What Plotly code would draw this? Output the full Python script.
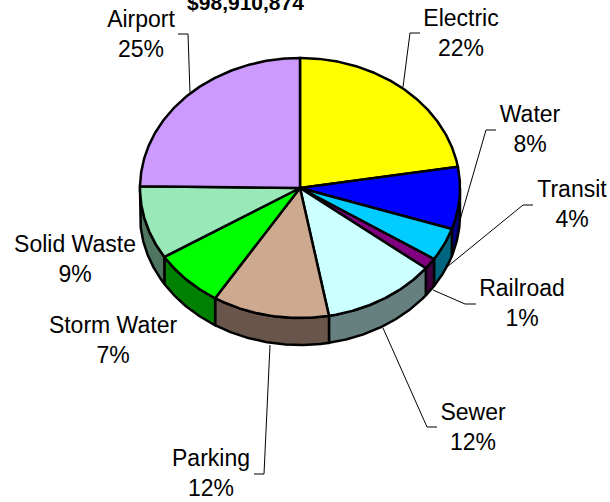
import math
import plotly.graph_objects as go

categories = ["Electric", "Water", "Transit", "Railroad", "Sewer", "Parking", "Storm Water", "Solid Waste", "Airport"]
values = [22.4, 7.7, 4.1, 1.4, 11.5, 11.8, 7.2, 9.1, 24.8]
total_label = "$98,910,874"
top_colors = ["#FFFF00", "#0000FF", "#00CCFF", "#800080", "#CCFFFF", "#CCA98F", "#00FF00", "#99E8B8", "#CC99FF"]
side_colors = ["#808000", "#000080", "#006680", "#400040", "#668080", "#69554A", "#008000", "#4D7560", "#664D80"]

# layout of the pie, in page pixels
CX, CY, RX, RY, DEPTH = 300, 188, 160, 130, 27
LABEL_POS = {
    "Electric": (461, 20), "Water": (530, 116), "Transit": (572, 191),
    "Railroad": (522, 290), "Sewer": (473, 414), "Parking": (211, 460),
    "Storm Water": (113, 327), "Solid Waste": (75, 246), "Airport": (141, 21),
}
LINE_GAP = 30
LEADERS = {
    "Electric": [(420, 33), (410, 33), (403, 87)],
    "Water": [(496, 130), (486, 130), (460, 220)],
    "Transit": [(533, 205), (523, 205), (447, 267)],
    "Railroad": [(476, 304), (465, 304), (433, 290)],
    "Sewer": [(437, 427), (427, 427), (383, 328)],
    "Parking": [(254, 474), (264, 474), (270, 345)],
    "Airport": [(178, 34), (188, 34), (190, 93)],
}


def pt(t, dy=0):
    r = math.radians(t)
    return CX + RX * math.sin(r), CY - RY * math.cos(r) + dy


def arc(a, b, dy=0):
    n = max(2, int(abs(b - a) * 2) + 1)
    return [pt(a + (b - a) * i / (n - 1), dy) for i in range(n)]


total = sum(values)
edges = [0.0]
for v in values:
    edges.append(edges[-1] + v / total * 360)

fig = go.Figure()


def poly(points, fill):
    xs = [p[0] for p in points] + [points[0][0]]
    ys = [p[1] for p in points] + [points[0][1]]
    fig.add_trace(go.Scatter(x=xs, y=ys, mode="lines", fill="toself", fillcolor=fill,
                             line=dict(color="black", width=2.5), hoverinfo="skip", showlegend=False))


# sides (front half only)
for i in range(len(values)):
    a, b = max(edges[i], 90), min(edges[i + 1], 270)
    if b > a:
        poly(arc(a, b) + arc(b, a, DEPTH), side_colors[i])

# top
for i in range(len(values)):
    poly([(CX, CY)] + arc(edges[i], edges[i + 1]), top_colors[i])

# leaders
for name, pts in LEADERS.items():
    fig.add_trace(go.Scatter(x=[p[0] for p in pts], y=[p[1] for p in pts], mode="lines",
                             line=dict(color="black", width=1), hoverinfo="skip", showlegend=False))

# labels
tx, ty, tt = [], [], []
for name, v in zip(categories, values):
    x, y = LABEL_POS[name]
    tx += [x, x]
    ty += [y, y + LINE_GAP]
    tt += [name, f"{round(v / total * 100)}%"]
fig.add_trace(go.Scatter(x=tx, y=ty, text=tt, mode="text", textposition="middle center",
                         textfont=dict(family="Liberation Sans", size=23, color="black"),
                         hoverinfo="skip", showlegend=False, cliponaxis=False))
fig.add_trace(go.Scatter(x=[245.5], y=[5], text=[f"<b>{total_label}</b>"], mode="text",
                         textposition="middle center",
                         textfont=dict(family="Liberation Sans", size=21, color="black"),
                         hoverinfo="skip", showlegend=False, cliponaxis=False))

fig.update_layout(
    width=610, height=502, margin=dict(l=0, r=0, t=0, b=0),
    paper_bgcolor="white", plot_bgcolor="white", showlegend=False,
    xaxis=dict(range=[0, 610], visible=False, fixedrange=True),
    yaxis=dict(range=[502, 0], visible=False, fixedrange=True),
)
fig.write_html("out.html", config={"displayModeBar": False},
               post_script="document.body.style.margin='0';document.body.style.overflow='hidden';")
